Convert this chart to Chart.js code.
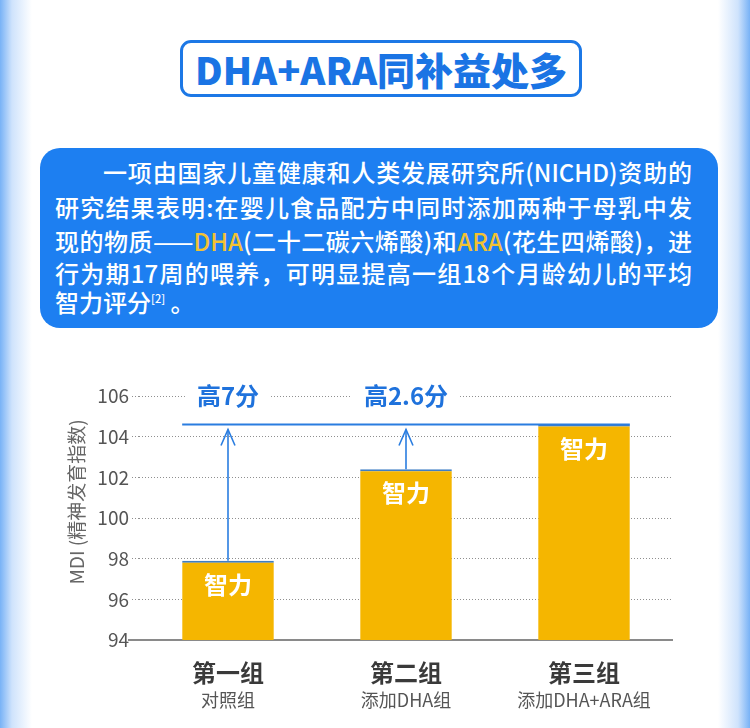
<!DOCTYPE html>
<html><head><meta charset="utf-8">
<script src="https://cdn.jsdelivr.net/npm/chart.js@4.4.1/dist/chart.umd.min.js"></script>
<style>
html,body{margin:0;padding:0;}
body{width:750px;height:728px;position:relative;overflow:hidden;font-family:"Noto Sans CJK SC","Noto Sans",sans-serif;
background:linear-gradient(to right,#78b2f6 0px,#cfe3fc 12px,#ffffff 32px,#ffffff 718px,#cfe3fc 738px,#78b2f6 750px);}
#title{position:absolute;left:180px;top:40px;width:396px;height:51px;border:3px solid #1c78e6;border-radius:11px;
display:flex;align-items:center;justify-content:center;color:#1a74e4;font-weight:900;font-size:38px;letter-spacing:0px;box-sizing:content-box;}
#panel{position:absolute;left:40px;top:148px;width:678px;height:180px;border-radius:20px;background:#1d7ff1;}
.ln{position:absolute;left:55px;width:637px;color:#fff;font-size:24px;font-weight:500;line-height:30px;white-space:nowrap;text-align:justify;text-align-last:justify;}
.ln.last{text-align:left;text-align-last:left;}
.y{color:#f2c232;}
sup{font-size:11px;vertical-align:top;position:relative;top:-4px;}
#wrap{position:absolute;left:0;top:360px;width:750px;height:368px;}
</style></head>
<body>
<div id="title">DHA+ARA同补益处多</div>
<div id="panel"></div>
<div class="ln" style="top:157px;left:103px;width:589px;">一项由国家儿童健康和人类发展研究所(NICHD)资助的</div>
<div class="ln" style="top:192px;">研究结果表明:在婴儿食品配方中同时添加两种于母乳中发</div>
<div class="ln" style="top:226px;">现的物质——<span class="y">DHA</span>(二十二碳六烯酸)和<span class="y">ARA</span>(花生四烯酸)，进</div>
<div class="ln" style="top:258px;">行为期17周的喂养，可明显提高一组18个月龄幼儿的平均</div>
<div class="ln last" style="top:287px;">智力评分<sup>[2]</sup> 。</div>
<div id="wrap"><canvas id="c" width="750" height="368" style="width:750px;height:368px"></canvas></div>
<script>
const categories = ['第一组', '第二组', '第三组'];
const subLabels = ['对照组', '添加DHA组', '添加DHA+ARA组'];
const mdiValues = [97.9, 102.4, 104.6];
const gainLabels = ['高7分', '高2.6分'];
const barText = '智力';
const yAxisTitle = 'MDI (精神发育指数)';
const yMin = 94, yMax = 106, yStep = 2;

const FONT = '"Noto Sans CJK SC","Noto Sans",sans-serif';

const decor = {
  id: 'decor',
  beforeDatasetsDraw(chart) {
    const ctx = chart.ctx;
    const a = chart.chartArea;
    ctx.save();
    ctx.strokeStyle = '#8a8a8a';
    ctx.lineWidth = 2;
    ctx.beginPath();
    ctx.moveTo(a.left - 11, a.bottom);
    ctx.lineTo(a.right, a.bottom);
    ctx.stroke();
    ctx.restore();
  },
  afterDatasetsDraw(chart) {
    const ctx = chart.ctx;
    const bars = chart.getDatasetMeta(0).data;
    const ys = chart.scales.y;
    const blue = '#2a7de0';
    const lineY = bars[2].y;
    ctx.save();
    ctx.strokeStyle = blue;
    ctx.lineWidth = 2;
    ctx.beginPath();
    ctx.moveTo(bars[0].x - bars[0].width / 2, lineY);
    ctx.lineTo(bars[2].x + bars[2].width / 2, lineY);
    ctx.stroke();
    for (let i = 0; i < 2; i++) {
      const x = bars[i].x, y0 = bars[i].y, tip = lineY + 5;
      ctx.lineWidth = 1.6;
      ctx.beginPath();
      ctx.moveTo(x, y0);
      ctx.lineTo(x, tip);
      ctx.stroke();
      ctx.beginPath();
      ctx.moveTo(x - 7, tip + 16);
      ctx.lineTo(x, tip);
      ctx.lineTo(x + 7, tip + 16);
      ctx.stroke();
    }
    const ty = ys.getPixelForValue(yMax);
    ctx.font = '700 24px ' + FONT;
    ctx.textAlign = 'center';
    ctx.textBaseline = 'middle';
    for (let i = 0; i < 2; i++) {
      const w = ctx.measureText(gainLabels[i]).width;
      ctx.fillStyle = '#ffffff';
      ctx.fillRect(bars[i].x - w / 2 - 12, ty - 8, w + 24, 16);
      ctx.fillStyle = '#1f72dc';
      ctx.fillText(gainLabels[i], bars[i].x, ty);
    }
    ctx.font = '700 24px ' + FONT;
    ctx.fillStyle = '#ffffff';
    bars.forEach(b => ctx.fillText(barText, b.x, b.y + 24));
    bars.forEach((b, i) => {
      ctx.font = '700 24px ' + FONT;
      ctx.fillStyle = '#3a3a3a';
      ctx.fillText(categories[i], b.x, 313);
      ctx.font = '400 18px ' + FONT;
      ctx.fillStyle = '#555555';
      ctx.fillText(subLabels[i], b.x, 340);
    });
    ctx.translate(77, 142);
    ctx.rotate(-Math.PI / 2);
    ctx.font = '400 19px ' + FONT;
    ctx.fillStyle = '#666666';
    ctx.fillText(yAxisTitle, 0, 0);
    ctx.restore();
  }
};

new Chart(document.getElementById('c'), {
  type: 'bar',
  data: {
    labels: categories,
    datasets: [{
      data: mdiValues,
      backgroundColor: '#f5b600',
      borderColor: '#3f7ec4',
      borderWidth: {top: 2, left: 0, right: 0, bottom: 0},
      borderSkipped: 'start',
      barPercentage: 0.515,
      categoryPercentage: 1
    }]
  },
  options: {
    responsive: false,
    animation: false,
    devicePixelRatio: 1,
    layout: {padding: {top: 36, left: 0, right: 77, bottom: 0}},
    plugins: {legend: {display: false}, tooltip: {enabled: false}},
    scales: {
      x: {
        ticks: {display: false},
        grid: {display: false},
        border: {display: false},
        afterFit(s) { s.height = 88; }
      },
      y: {
        min: yMin, max: yMax,
        ticks: {stepSize: yStep, padding: 3, color: '#555555', font: {family: FONT, size: 19}},
        grid: {color: '#8f8f8f', lineWidth: 1, borderDash: [1, 2], tickBorderDash: [1, 2], tickColor: '#8f8f8f', tickLength: 7, drawTicks: true},
        border: {display: false, dash: [1, 2]},
        afterFit(s) { s.width = 139; }
      }
    }
  },
  plugins: [decor]
});
</script>
</body></html>
